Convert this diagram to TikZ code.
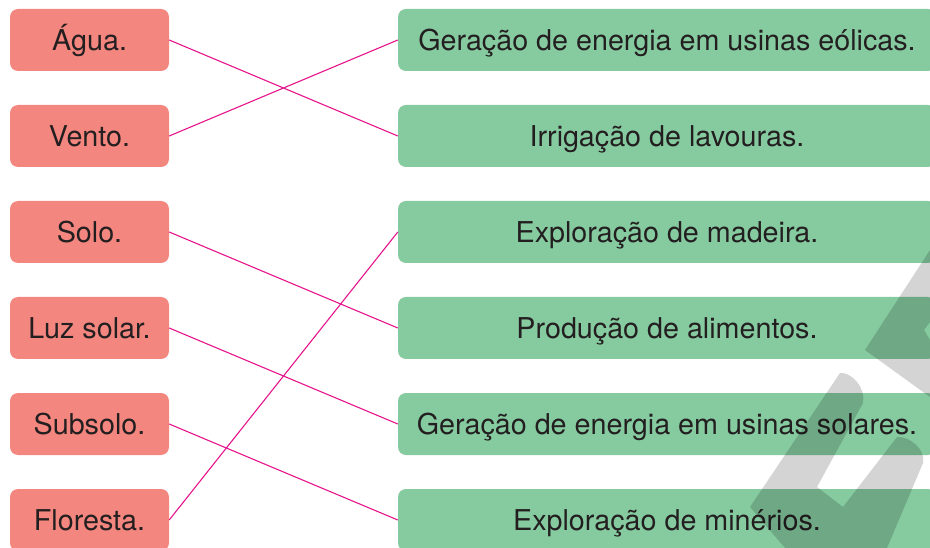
\documentclass[tikz,border=0pt]{standalone}
\usepackage{fontspec}
\setmainfont{TeX Gyre Heros}
\usepackage{tikz}
\usetikzlibrary{calc}

\definecolor{resred}{RGB}{243,134,126}
\definecolor{usegreen}{RGB}{134,203,160}
\definecolor{linkpink}{RGB}{230,20,140}
\definecolor{textdark}{RGB}{35,31,32}

\tikzset{
  resource/.style={fill=resred,rounded corners=8pt,minimum width=159pt,minimum height=62pt,
    inner sep=0pt,text height=20.6pt,text depth=0pt,text=textdark,font=\fontsize{28.7}{30}\selectfont},
  usage/.style={resource,fill=usegreen,minimum width=538pt},
  match/.style={linkpink,line width=1.1pt},
}

\begin{document}
\begin{tikzpicture}[x=1pt,y=-1pt]
  \useasboundingbox (0,0) rectangle (930,548);
  % left column
  \node[resource] (agua)  at (89.5,40)  {Água.};
  \node[resource] (vento) at (89.5,136) {Vento.};
  \node[resource] (solo)  at (89.5,232) {Solo.};
  \node[resource] (luz)   at (89.5,328) {Luz solar.};
  \node[resource] (sub)   at (89.5,424) {Subsolo.};
  \node[resource] (flor)  at (89.5,520) {Floresta.};
  % right column
  \node[usage] (eolica)   at (667,40)  {Geração de energia em usinas eólicas.};
  \node[usage] (irriga)   at (667,136) {Irrigação de lavouras.};
  \node[usage] (madeira)  at (667,232) {Exploração de madeira.};
  \node[usage] (alimento) at (667,328) {Produção de alimentos.};
  \node[usage] (solar)    at (667,424) {Geração de energia em usinas solares.};
  \node[usage] (minerio)  at (667,520) {Exploração de minérios.};
  % matches
  \draw[match] (agua.east)  -- (irriga.west);
  \draw[match] (vento.east) -- (eolica.west);
  \draw[match] (solo.east)  -- (alimento.west);
  \draw[match] (luz.east)   -- (solar.west);
  \draw[match] (sub.east)   -- (minerio.west);
  \draw[match] (flor.east)  -- (madeira.west);
  % watermark
  \fill[black,opacity=0.17] (750,507) -- (840,373)
    .. controls (852,372) and (866,388) .. (863,403) -- (817,487) -- (843,507) -- (897,437)
    .. controls (910,436) and (926,450) .. (923,463) -- (887,548) -- (785,548) -- cycle;
  \fill[black,opacity=0.17,even odd rule] (865,350) -- (930,250) -- (930,397) -- cycle
    (930,322) -- (924,330) -- (930,340) -- cycle;
\end{tikzpicture}
\end{document}
